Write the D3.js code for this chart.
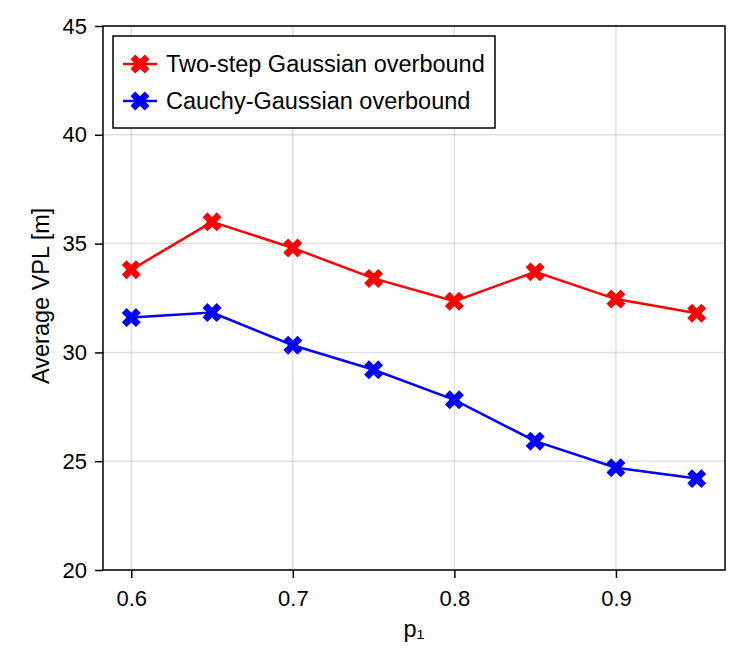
<!DOCTYPE html>
<html>
<head>
<meta charset="utf-8">
<script src="https://cdn.jsdelivr.net/npm/d3@7"></script>
<style>
  body { margin: 0; background: #fff; }
  text { font-family: "Liberation Sans", Arial, sans-serif; }
</style>
</head>
<body>
<svg id="chart" width="753" height="669"></svg>
<script>
// p1 values on the x axis
var p1 = [0.6, 0.65, 0.7, 0.75, 0.8, 0.85, 0.9, 0.95];
// average VPL [m] per method
var twoStep = [33.8, 36.0, 34.8, 33.4, 32.35, 33.7, 32.45, 31.8];
var cauchy = [31.6, 31.83, 30.33, 29.2, 27.82, 25.92, 24.7, 24.2];
var seriesNames = ["Two-step Gaussian overbound", "Cauchy-Gaussian overbound"];
var seriesColors = ["red", "blue"];
var xTicks = [0.6, 0.7, 0.8, 0.9];
var yTicks = [20, 25, 30, 35, 40, 45];

var margin = {left: 103, right: 28, top: 26, bottom: 99};
var W = 753, H = 669;
var svg = d3.select("#chart");

var x = d3.scaleLinear().domain([0.5825, 0.9675]).range([margin.left, W - margin.right]);
var y = d3.scaleLinear().domain([20, 45]).range([H - margin.bottom, margin.top]);

// grid
svg.append("g").selectAll("line").data(xTicks).join("line")
  .attr("x1", d => x(d)).attr("x2", d => x(d))
  .attr("y1", y(20)).attr("y2", y(45))
  .attr("stroke", "#000").attr("stroke-opacity", 0.12).attr("stroke-width", 1.5);
svg.append("g").selectAll("line").data(yTicks).join("line")
  .attr("x1", x.range()[0]).attr("x2", x.range()[1])
  .attr("y1", d => y(d)).attr("y2", d => y(d))
  .attr("stroke", "#000").attr("stroke-opacity", 0.12).attr("stroke-width", 1.5);

// axes
var xAxis = svg.append("g")
  .attr("transform", "translate(0," + y(20) + ")")
  .call(d3.axisBottom(x).tickValues(xTicks).tickFormat(d3.format(".1f")).tickSize(8).tickPadding(12));
var yAxis = svg.append("g")
  .attr("transform", "translate(" + x.range()[0] + ",0)")
  .call(d3.axisLeft(y).tickValues(yTicks).tickSize(8).tickPadding(8));
[xAxis, yAxis].forEach(function(a) {
  a.select(".domain").remove();
  a.selectAll("line").attr("stroke-width", 1.5);
  a.selectAll("text").attr("font-size", 22).attr("fill", "#000")
    .style("font-family", "'Liberation Sans', Arial, sans-serif");
});

// frame
svg.append("rect")
  .attr("x", x.range()[0]).attr("y", y(45))
  .attr("width", x.range()[1] - x.range()[0]).attr("height", y(20) - y(45))
  .attr("fill", "none").attr("stroke", "#000").attr("stroke-width", 1.5);

// axis labels
svg.append("text").attr("x", x(0.775)).attr("y", 637)
  .attr("text-anchor", "middle").attr("font-size", 23.5).text("p\u2081");
svg.append("text")
  .attr("transform", "translate(49," + y(32.6) + ") rotate(-90)")
  .attr("text-anchor", "middle").attr("font-size", 23.5).text("Average VPL [m]");

// x-cross marker path
function xcross(s) {
  var a = s * 0.5, b = s * 0.17;
  // plus shape rotated by 45deg
  var pts = [[-b,-a],[b,-a],[b,-b],[a,-b],[a,b],[b,b],[b,a],[-b,a],[-b,b],[-a,b],[-a,-b],[-b,-b]];
  return "M" + pts.map(p => p.join(",")).join("L") + "Z";
}

var line = d3.line().x((d, i) => x(p1[i])).y(d => y(d));
[twoStep, cauchy].forEach(function(vals, k) {
  svg.append("path").datum(vals).attr("d", line)
    .attr("fill", "none").attr("stroke", seriesColors[k]).attr("stroke-width", 2.5);
  svg.append("g").selectAll("path").data(vals).join("path")
    .attr("d", xcross(20))
    .attr("transform", (d, i) => "translate(" + x(p1[i]) + "," + y(d) + ") rotate(45)")
    .attr("fill", seriesColors[k]);
});

// legend
var lg = svg.append("g");
lg.append("rect").attr("x", 113).attr("y", 36).attr("width", 382).attr("height", 92)
  .attr("fill", "#fff").attr("stroke", "#000").attr("stroke-width", 1.5);
seriesNames.forEach(function(name, k) {
  var cy = 64 + k * 37;
  lg.append("line").attr("x1", 123).attr("x2", 157).attr("y1", cy).attr("y2", cy)
    .attr("stroke", seriesColors[k]).attr("stroke-width", 2.5);
  lg.append("path").attr("d", xcross(20))
    .attr("transform", "translate(140," + cy + ") rotate(45)").attr("fill", seriesColors[k]);
  lg.append("text").attr("x", 166).attr("y", cy).attr("dy", "0.36em")
    .attr("font-size", 23.5).text(name);
});
</script>
</body>
</html>
